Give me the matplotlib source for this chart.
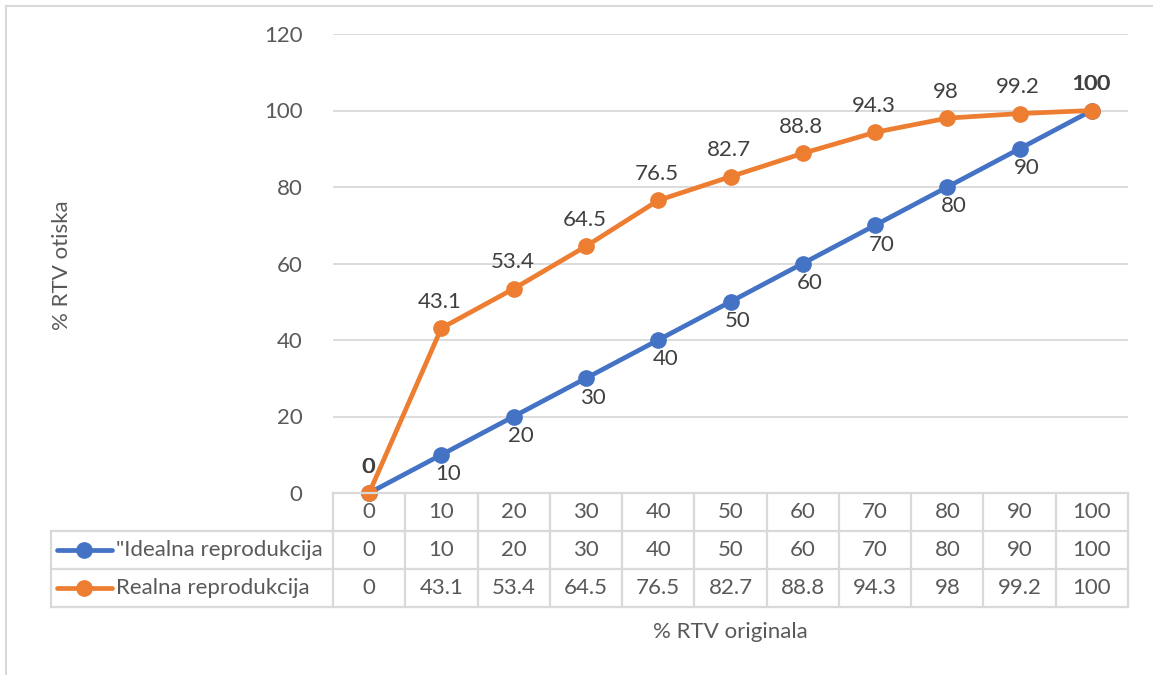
import matplotlib.pyplot as plt
from matplotlib.lines import Line2D
import numpy as np

plt.rcParams['font.family'] = ['Lato', 'DejaVu Sans']

# data
categories = [0, 10, 20, 30, 40, 50, 60, 70, 80, 90, 100]
ideal = [0, 10, 20, 30, 40, 50, 60, 70, 80, 90, 100]
real = [0, 43.1, 53.4, 64.5, 76.5, 82.7, 88.8, 94.3, 98, 99.2, 100]
ideal_name = '"Idealna reprodukcija'
real_name = 'Realna reprodukcija'
y_ticks = [0, 20, 40, 60, 80, 100, 120]

blue = '#4472C4'
orange = '#ED7D31'
grid_c = '#D9D9D9'
txt = '#595959'
lbl = '#404040'
fs = 16

W, H = 1153, 675
fig = plt.figure(figsize=(W / 100, H / 100), dpi=100)

# plot area in pixels
x0, x1, y0, y1 = 333, 1128, 493, 34
ax = fig.add_axes([x0 / W, 1 - y0 / H, (x1 - x0) / W, (y0 - y1) / H])
ax.set_xlim(-0.5, len(categories) - 0.5)
ax.set_ylim(0, 120)
for s in ax.spines.values():
    s.set_visible(False)
ax.set_yticks(y_ticks)
ax.tick_params(axis='y', length=0, pad=22, labelsize=fs, labelcolor=txt)
ax.set_xticks([])
for t in y_ticks:
    ax.axhline(t, color=grid_c, lw=1.3, zorder=0)

xs = np.arange(len(categories))
ax.plot(xs, ideal, color=blue, lw=3.4, marker='o', ms=11, zorder=3, clip_on=False)
ax.plot(xs, real, color=orange, lw=3.4, marker='o', ms=11, zorder=4, clip_on=False)

# data labels
for i, (a, b) in enumerate(zip(ideal, real)):
    if i == 0 or i == len(ideal) - 1:
        ax.annotate(f'{a:g}', (i, a), xytext=(0, 19), textcoords='offset points',
                    ha='center', va='center', fontsize=fs, color=lbl)
    else:
        ax.annotate(f'{a:g}', (i, a), xytext=(5, -14), textcoords='offset points',
                    ha='center', va='center', fontsize=fs, color=lbl)
    ax.annotate(f'{b:g}', (i, b), xytext=(-1, 19), textcoords='offset points',
                ha='center', va='center', fontsize=fs, color=lbl)

# data table below the plot (pixel helpers)
def fx(px):
    return px / W

def fy(py):
    return 1 - py / H

col_w = (x1 - x0) / len(categories)
rows = [493, 530.5, 568.5, 606.5]
leg_left = 51
lc = dict(color=grid_c, lw=1.6, transform=fig.transFigure)
# horizontal lines
fig.add_artist(Line2D([fx(x0), fx(x1)], [fy(rows[0])] * 2, **lc))
for r in rows[1:]:
    fig.add_artist(Line2D([fx(leg_left), fx(x1)], [fy(r)] * 2, **lc))
# vertical lines
for k in range(len(categories) + 1):
    xp = x0 + k * col_w
    fig.add_artist(Line2D([fx(xp)] * 2, [fy(rows[0]), fy(rows[3])], **lc))
fig.add_artist(Line2D([fx(leg_left)] * 2, [fy(rows[1]), fy(rows[3])], **lc))

table_rows = [[f'{c:g}' for c in categories],
              [f'{v:g}' for v in ideal],
              [f'{v:g}' for v in real]]
for r, vals in enumerate(table_rows):
    yc = (rows[r] + rows[r + 1]) / 2
    for k, v in enumerate(vals):
        xc = x0 + (k + 0.5) * col_w
        fig.text(fx(xc), fy(yc), v, ha='center', va='center', fontsize=fs, color=txt)

# legend keys in table
for r, (name, c) in enumerate([(ideal_name, blue), (real_name, orange)]):
    yc = (rows[r + 1] + rows[r + 2]) / 2
    fig.add_artist(Line2D([fx(57), fx(112)], [fy(yc)] * 2, color=c, lw=3.4,
                          solid_capstyle='round', transform=fig.transFigure))
    fig.add_artist(Line2D([fx(84)], [fy(yc)], color=c, marker='o', ms=11,
                          transform=fig.transFigure))
    fig.text(fx(116), fy(yc), name, ha='left', va='center', fontsize=fs, color=txt)

# axis titles
fig.text(fx(730), fy(632), '% RTV originala', ha='center', va='center', fontsize=fs, color=txt)
fig.text(fx(62), fy(265), '% RTV otiska', ha='center', va='center', rotation=90,
         fontsize=fs, color=txt)

# chart frame
fig.add_artist(Line2D([fx(5.5), fx(W)], [fy(5.5)] * 2, color=grid_c, lw=1.5,
                      transform=fig.transFigure))
fig.add_artist(Line2D([fx(5.5)] * 2, [fy(5.5), fy(H)], color=grid_c, lw=1.5,
                      transform=fig.transFigure))

fig.savefig('out.png', dpi=100)
